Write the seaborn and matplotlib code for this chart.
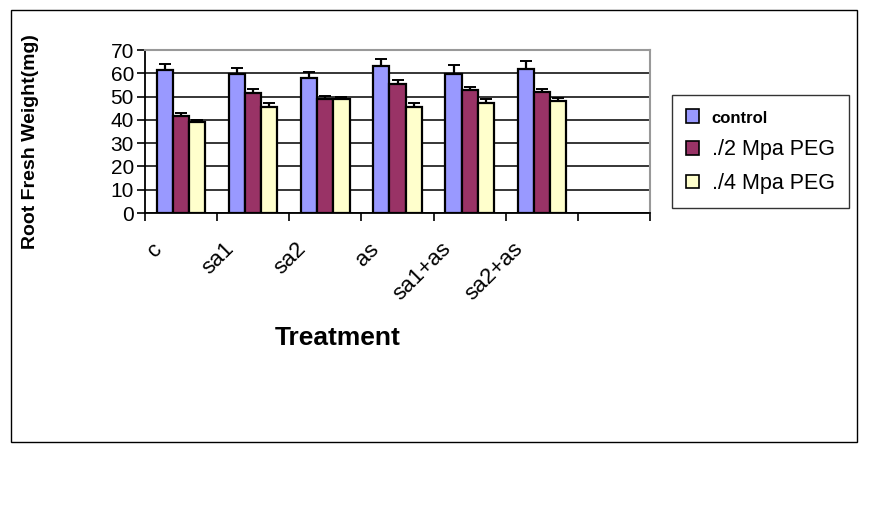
import numpy as np
import pandas as pd
import matplotlib.pyplot as plt
import matplotlib.transforms as mtransforms
from matplotlib.patches import Rectangle, Patch
import seaborn as sns

# ---------------------------------------------------------------------------
# Data
# ---------------------------------------------------------------------------
TREATMENTS = ["c", "sa1", "sa2", "as", "sa1+as", "sa2+as"]
SERIES = ["control", "./2 Mpa PEG", "./4 Mpa PEG"]
CONTROL = [61.5, 59.5, 58.0, 63.0, 59.8, 62.0]
PEG_2 = [41.5, 51.5, 49.0, 55.5, 52.8, 51.8]
PEG_4 = [39.0, 45.5, 48.8, 45.5, 47.3, 48.0]
ERR_CONTROL = [2.5, 2.8, 2.4, 3.0, 3.6, 3.4]
ERR_PEG_2 = [1.5, 1.7, 1.3, 1.6, 1.3, 1.5]
ERR_PEG_4 = [0.8, 1.7, 1.2, 1.7, 1.6, 1.4]
YTICKS = [0, 10, 20, 30, 40, 50, 60, 70]

COLORS = ["#9999FF", "#993366", "#FFFFCC"]

sns.set_theme(style="white")
plt.rcParams["font.family"] = ["Liberation Sans", "DejaVu Sans"]
for key in ["text.color", "axes.labelcolor", "xtick.color", "ytick.color"]:
    plt.rcParams[key] = "black"

errors = [ERR_CONTROL, ERR_PEG_2, ERR_PEG_4]
df = pd.DataFrame({
    "Treatment": TREATMENTS * 3,
    "series": np.repeat(SERIES, len(TREATMENTS)),
    "value": CONTROL + PEG_2 + PEG_4,
})

fig = plt.figure(figsize=(8.73, 5.16), dpi=100)
ax = fig.add_axes([145 / 873, 1 - 213 / 516, 505 / 873, 163 / 516])

order = TREATMENTS + [" "]  # empty seventh slot as in the original
sns.barplot(data=df, x="Treatment", y="value", hue="series", order=order,
            hue_order=SERIES, palette=COLORS, saturation=1, width=0.67,
            gap=0, edgecolor="black", linewidth=1.6, legend=False, ax=ax,
            zorder=3)

# upward-only error bars, positioned from the drawn bars
for container, err in zip(ax.containers, errors):
    xs = [b.get_x() + b.get_width() / 2 for b in container]
    ys = [b.get_height() for b in container]
    ax.errorbar(xs, ys, yerr=[np.zeros(len(err)), err], fmt="none",
                ecolor="black", elinewidth=1.6, capsize=4, capthick=1.4,
                zorder=4)

ax.set_ylim(0, 70)
ax.set_xlim(-0.5, len(order) - 0.5)
ax.set_yticks(YTICKS)
ax.set_yticklabels([str(t) for t in YTICKS], fontsize=15)
ax.yaxis.grid(True, color="black", linewidth=1.1, zorder=0)
ax.set_axisbelow(True)

# ticks at slot boundaries, labels at slot centers
ax.set_xticks(np.arange(len(order) + 1) - 0.5)
ax.set_xticklabels([])
ax.tick_params(axis="x", which="major", direction="out", length=6,
               width=1.2, color="black", bottom=True)
ax.tick_params(axis="y", direction="out", length=6, width=1.2,
               color="black", left=True, pad=2)
ax.set_xticks(np.arange(len(TREATMENTS)), minor=True)
ax.set_xticklabels(TREATMENTS, minor=True, fontsize=16, rotation=45,
                   ha="right", va="center", rotation_mode="anchor")
ax.tick_params(axis="x", which="minor", length=0, pad=0)
offset = mtransforms.ScaledTranslation(-22 / 100, -33 / 100, fig.dpi_scale_trans)
for lab in ax.xaxis.get_minorticklabels():
    lab.set_transform(lab.get_transform() + offset)

ax.set_xlabel("")
ax.set_ylabel("")
for side in ["left", "bottom"]:
    ax.spines[side].set_color("black")
    ax.spines[side].set_linewidth(1.3)
for side in ["top", "right"]:
    ax.spines[side].set_color("#999999")
    ax.spines[side].set_linewidth(1.5)

fig.text(338 / 873, 1 - 338 / 516, "Treatment", fontsize=19,
         fontweight="bold", ha="center", va="center")
fig.text(31 / 873, 1 - 142 / 516, "Root Fresh Weight(mg)", fontsize=14,
         fontweight="bold", rotation=90, ha="center", va="center")

handles = [Patch(facecolor=c, edgecolor="black", linewidth=1.2) for c in COLORS]
leg = fig.legend(handles, SERIES, loc="upper left",
                 bbox_to_anchor=(672 / 873, 1 - 95 / 516), fontsize=15.5,
                 frameon=True, fancybox=False, edgecolor="black",
                 handlelength=0.6, handleheight=0.6, handletextpad=0.6,
                 labelspacing=0.6, borderpad=0.65, borderaxespad=0)
leg.get_frame().set_linewidth(1.0)
leg.get_texts()[0].set_fontweight("bold")
leg.get_texts()[0].set_fontsize(12)

fig.patches.append(Rectangle((11 / 873, 1 - 442 / 516), 846 / 873, 432 / 516,
                             transform=fig.transFigure, fill=False,
                             edgecolor="black", linewidth=1.0))

fig.savefig("out.png", dpi=100)
